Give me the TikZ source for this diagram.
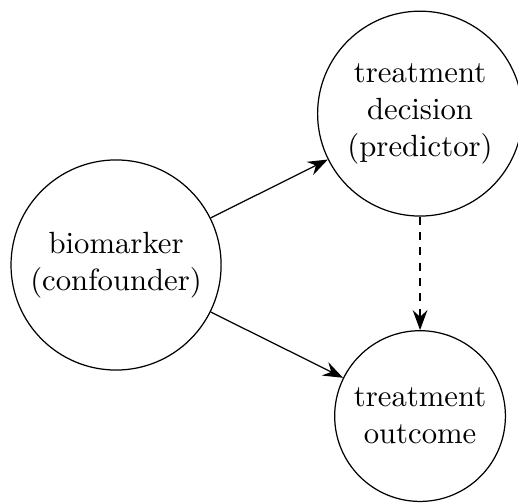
\documentclass[tikz,border=0pt]{standalone}
\usetikzlibrary{arrows.meta}
\begin{document}
\begin{tikzpicture}[x=1pt,y=1pt,
  var/.style={draw, circle, align=center, inner sep=3.333pt},
  link/.style={-{Stealth[length=6.5pt,width=4.8pt,inset=2.2pt]}, line width=0.4pt},
  weak/.style={link, dash pattern=on 2.6pt off 2.4pt}]
\useasboundingbox (0,0) rectangle (168.7,-163.5);
\node[var] (bio) at (37.8,-86.3) {biomarker\\(confounder)};
\node[var] (dec) at (136.8,-37.0) {treatment\\decision\\(predictor)};
\node[var] (out) at (136.8,-135.5) {treatment\\outcome};
\draw[link] (bio) -- (dec);
\draw[link] (bio) -- (out);
\draw[weak] (dec) -- (out);
\end{tikzpicture}
\end{document}
